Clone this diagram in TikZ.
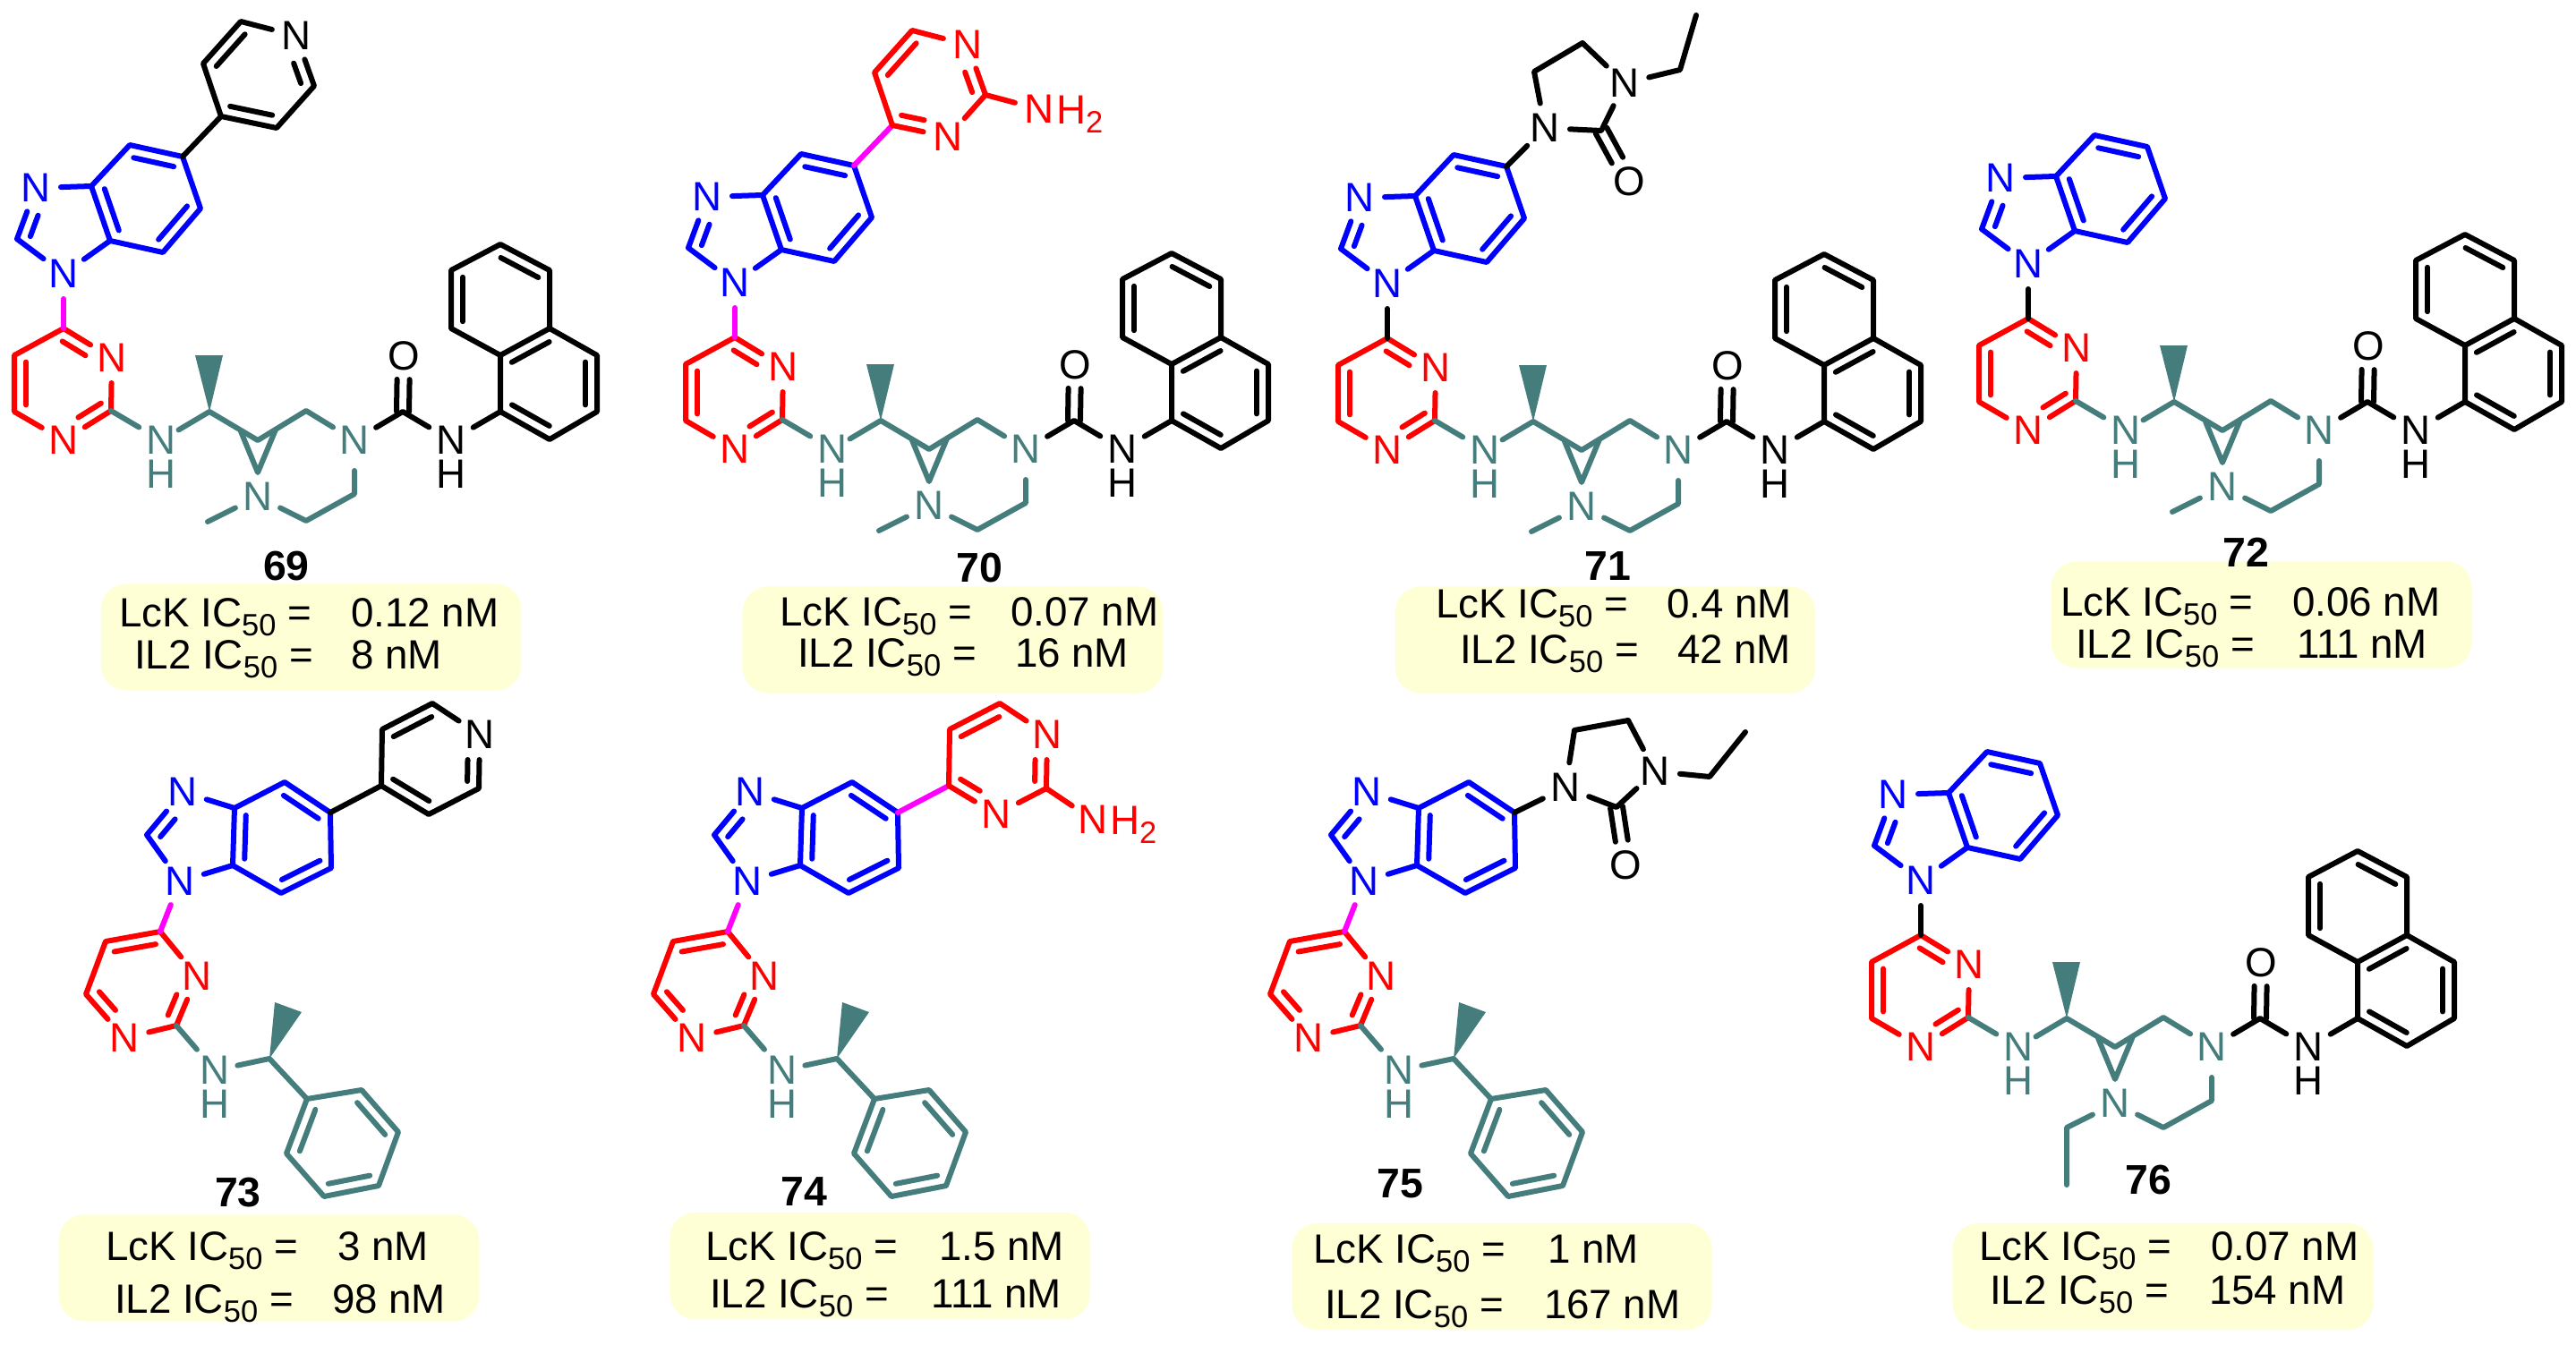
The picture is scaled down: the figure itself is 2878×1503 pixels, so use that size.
\documentclass[tikz,border=0pt]{standalone}
\usepackage{fontspec}
\setmainfont{Liberation Sans}
\usetikzlibrary{calc}

\definecolor{molred}{RGB}{255,0,0}
\definecolor{molblue}{RGB}{0,0,255}
\definecolor{molpink}{RGB}{255,0,255}
\definecolor{molteal}{RGB}{69,125,125}
\definecolor{boxfill}{RGB}{255,255,214}

\newcommand{\atomfont}{\fontsize{13}{14}\selectfont}
\newcommand{\icfont}{\fontsize{13}{15}\selectfont}
\newcommand{\labfont}{\fontsize{13.2}{15}\selectfont\bfseries}
\newcommand{\subn}[1]{\raisebox{-0.1cm}{\fontsize{9.8}{10}\selectfont #1}}
\newcommand{\lck}{LcK IC\subn{50} =}
\newcommand{\iltwo}{IL2 IC\subn{50} =}

% inner line of a double bond, on the right of the way a -> b
\newcommand{\ib}[4]{\draw ($(#1)!#3!(#2)!0.13cm!-90:(#2)$) -- ($(#1)!#4!(#2)!0.13cm!-90:(#2)$);}
% the two lines of a C=O
\newcommand{\co}[2]{
  \draw ($(#1)!0!(#2)!0.07cm!90:(#2)$) -- ($(#1)!0.58!(#2)!0.07cm!90:(#2)$);
  \draw ($(#1)!0!(#2)!0.07cm!-90:(#2)$) -- ($(#1)!0.58!(#2)!0.07cm!-90:(#2)$);
}

% benzimidazole: N1 C2 N3 C3a C7a C4 C5 C6 C7
\newcommand{\benzim}[9]{
  \begin{scope}[color=molblue]
    \node[natom] (n1) at (#1) {N};
    \coordinate (c2) at (#2);
    \node[natom] (n3) at (#3) {N};
    \coordinate (c3a) at (#4);
    \coordinate (c7a) at (#5);
    \coordinate (c4) at (#6);
    \coordinate (c5) at (#7);
    \coordinate (c6) at (#8);
    \coordinate (c7) at (#9);
    \draw (n1) -- (c2) -- (n3) -- (c3a) -- (c7a) -- (n1);
    \draw (c3a) -- (c4) -- (c5) -- (c6) -- (c7) -- (c7a);
    \ib{c2}{n3}{.13}{.54}
    \ib{c4}{c5}{.12}{.88}
    \ib{c6}{c7}{.12}{.88}
    \ib{c7a}{c3a}{.12}{.88}
  \end{scope}
}
\newcommand{\bziA}{\benzim{71,306}{19,267}{40,210}{102,208}{123,269}{145,162}{204,175}{224,233}{182,282}}
\newcommand{\bziB}{\benzim{201,985}{164,933}{204,885}{262,903}{260,967}{318,874}{369,908}{370,970}{314,998}}

% pyrimidine on the benzimidazole N, upper row
\newcommand{\pymA}{
  \begin{scope}[color=molred]
    \coordinate (p4) at (71,367);
    \coordinate (p5) at (16,397);
    \coordinate (p6) at (16,460);
    \node[natom] (p1) at (71,492) {N};
    \coordinate (p2) at (124,459);
    \node[natom] (p3) at (125,400) {N};
    \draw (p4) -- (p5) -- (p6) -- (p1) -- (p2) -- (p3) -- (p4);
    \ib{p4}{p3}{.1}{.58}
    \ib{p2}{p1}{.08}{.56}
    \ib{p6}{p5}{.12}{.88}
  \end{scope}
}
% same ring, lower row
\newcommand{\pymB}{
  \begin{scope}[color=molred]
    \coordinate (p4) at (179,1041);
    \coordinate (p5) at (118,1052);
    \coordinate (p6) at (96,1111);
    \node[natom] (p1) at (139,1160) {N};
    \coordinate (p2) at (197,1146);
    \node[natom] (p3) at (220,1091) {N};
    \draw (p4) -- (p5) -- (p6) -- (p1) -- (p2) -- (p3) -- (p4);
    \ib{p5}{p4}{.12}{.88}
    \ib{p3}{p2}{.46}{.88}
    \ib{p1}{p6}{.46}{.88}
  \end{scope}
}

% NH, chiral C and the bridged piperazine
\newcommand{\pipA}[1]{
  \begin{scope}[color=molteal]
    \node[hnode] (nh) at (180,492) {N};
    \node[hnode] (hh) at (180,530) {H};
    \coordinate (ch) at (234,460);
    \coordinate (wa) at (218,397);
    \coordinate (wb) at (249,397);
    \coordinate (br) at (288,492);
    \coordinate (bl) at (269,482);
    \coordinate (bq) at (308,480);
    \coordinate (apex) at (288,528);
    \coordinate (cr) at (342,459);
    \node[natom] (npip) at (396,492) {N};
    \coordinate (cs) at (396,552);
    \coordinate (ct) at (342,582);
    \node[natom] (nalk) at (288,555) {N};
    \fill (ch) -- (wa) -- (wb) -- cycle;
    \draw[shorten >=0.06cm] (p2) -- (nh);
    \draw[shorten <=0.06cm] (nh) -- (ch) -- (br) -- (cr) -- (npip) -- (cs) -- (ct) -- (nalk);
    \draw (bl) -- (apex) -- (bq);
    #1
  \end{scope}
}
\newcommand{\methyl}{
  \coordinate (mea) at (232,583);
  \draw (nalk) -- (mea);
}
\newcommand{\ethyl}{
  \coordinate (eta) at (234,582);
  \coordinate (etb) at (234,646);
  \draw (nalk) -- (eta) -- (etb);
}

% urea and naphthyl
\newcommand{\ureanaph}{
  \coordinate (cu) at (450,460);
  \node[natom] (ox) at (451,398) {O};
  \node[hnode] (nu) at (504,492) {N};
  \node[hnode] (hu) at (504,530) {H};
  \coordinate (a1) at (559,460);
  \coordinate (a2) at (559,397);
  \coordinate (a3) at (504,367);
  \coordinate (a4) at (504,302);
  \coordinate (a5) at (559,273);
  \coordinate (a6) at (614,302);
  \coordinate (a7) at (614,367);
  \coordinate (a8) at (667,397);
  \coordinate (a9) at (667,460);
  \coordinate (a10) at (614,491);
  \draw[shorten >=0.06cm] (npip) -- (cu) -- (nu);
  \draw[shorten <=0.06cm] (nu) -- (a1);
  \co{cu}{ox}
  \draw (a1) -- (a2) -- (a3) -- (a4) -- (a5) -- (a6) -- (a7) -- (a2);
  \draw (a7) -- (a8) -- (a9) -- (a10) -- (a1);
  \ib{a3}{a4}{.12}{.88}
  \ib{a5}{a6}{.12}{.88}
  \ib{a2}{a7}{.12}{.88}
  \ib{a8}{a9}{.12}{.88}
  \ib{a10}{a1}{.12}{.88}
}

% N-aryl-ethylamine of the lower row
\newcommand{\benzylB}{
  \begin{scope}[color=molteal]
    \node[hnode] (nh) at (240,1196) {N};
    \node[hnode] (hh) at (240,1234) {H};
    \coordinate (ch) at (301,1183);
    \coordinate (wa) at (307,1120);
    \coordinate (wb) at (337,1131);
    \coordinate (f1) at (343,1228);
    \coordinate (f2) at (404,1218);
    \coordinate (f3) at (445,1265);
    \coordinate (f4) at (423,1325);
    \coordinate (f5) at (362,1337);
    \coordinate (f6) at (320,1289);
    \fill (ch) -- (wa) -- (wb) -- cycle;
    \draw[shorten >=0.06cm] (p2) -- (nh);
    \draw[shorten <=0.06cm] (nh) -- (ch) -- (f1) -- (f2) -- (f3) -- (f4) -- (f5) -- (f6) -- (f1);
    \ib{f2}{f3}{.12}{.88}
    \ib{f4}{f5}{.12}{.88}
    \ib{f6}{f1}{.12}{.88}
  \end{scope}
}

% six-ring on C5: where its atoms lie
\newcommand{\ringpos}[6]{
  \coordinate (qa) at (#1);
  \coordinate (qb) at (#2);
  \coordinate (qc) at (#3);
  \coordinate (qd) at (#4);
  \coordinate (qe) at (#5);
  \coordinate (qf) at (#6);
}
\newcommand{\ringA}{\ringpos{247,130}{227,71}{269,24}{331,40}{351,96}{309,143}}
\newcommand{\ringB}{\ringpos{426,878}{427,815}{483,786}{536,821}{535,881}{479,910}}
\newcommand{\pyridyl}{
  \node[natom] (qn) at (qd) {N};
  \draw (c5) -- (qa) -- (qb) -- (qc) -- (qn) -- (qe) -- (qf) -- (qa);
  \ib{qb}{qc}{.12}{.88}
  \ib{qn}{qe}{.47}{.87}
  \ib{qf}{qa}{.12}{.88}
}
\newcommand{\aminopym}[1]{
  \draw[color=molpink] (c5) -- (qa);
  \begin{scope}[color=molred]
    \node[natom] (qn) at (qd) {N};
    \node[natom] (qm) at (qf) {N};
    \node[natom] (ntwo) at (#1) {N};
    \node[hnode,anchor=base west,xshift=0.16cm,yshift=-0.16cm] (htwo) at (ntwo) {H\subn{2}};
    \draw (qa) -- (qb) -- (qc) -- (qn) -- (qe) -- (qm) -- (qa);
    \draw (qe) -- (ntwo);
    \ib{qb}{qc}{.12}{.88}
    \ib{qn}{qe}{.47}{.87}
    \ib{qm}{qa}{.47}{.88}
  \end{scope}
}

% imidazolidinone: N, CH2, CH2, N, C=O, O, CH2, CH3
\newcommand{\imidone}[8]{
  \node[natom] (ia) at (#1) {N};
  \coordinate (ib) at (#2);
  \coordinate (ic) at (#3);
  \node[natom] (id) at (#4) {N};
  \coordinate (ie) at (#5);
  \node[natom] (io) at (#6) {O};
  \coordinate (ig) at (#7);
  \coordinate (ih) at (#8);
  \draw (c5) -- (ia) -- (ib) -- (ic) -- (id) -- (ie) -- (ia);
  \draw (id) -- (ig) -- (ih);
  \co{ie}{io}
}

\newcommand{\icrow}[6]{
  \node[ictext] (#1l) at (#2,#3) {#4};
  \node[ictext] (#1v) at (#5,#3) {#6};
}

\begin{document}
\begin{tikzpicture}[
  x=0.01cm,y=-0.01cm,
  line width=0.06cm,line cap=round,line join=round,
  natom/.style={circle,minimum size=0.5cm,inner sep=0pt,font=\atomfont},
  hnode/.style={inner sep=0pt,font=\atomfont},
  icbox/.style={fill=boxfill,rounded corners=0.28cm,minimum width=4.69cm,minimum height=1.19cm,inner sep=0pt},
  ictext/.style={anchor=base west,inner sep=0pt,font=\icfont},
  lab/.style={inner sep=0pt,font=\labfont}
]
  \useasboundingbox (0,0) rectangle (2878,1503);

  % boxes
  \node[icbox] (box69) at (347.5,712) {};
  \node[icbox] (box70) at (1064.5,715) {};
  \node[icbox] (box71) at (1793.5,715) {};
  \node[icbox] (box72) at (2526.5,687) {};
  \node[icbox] (box73) at (300.5,1417) {};
  \node[icbox] (box74) at (983,1414.5) {};
  \node[icbox] (box75) at (1678,1426.5) {};
  \node[icbox] (box76) at (2416.5,1426.5) {};

  % upper row
  \begin{scope}
    \bziA \pymA \pipA{\methyl} \ureanaph
    \draw[color=molpink] (n1) -- (p4);
    \ringA \pyridyl
  \end{scope}
  \begin{scope}[shift={(750,10)}]
    \bziA \pymA \pipA{\methyl} \ureanaph
    \draw[color=molpink] (n1) -- (p4);
    \ringA \aminopym{411,112}
  \end{scope}
  \begin{scope}[shift={(1479,11)}]
    \bziA \pymA \pipA{\methyl} \ureanaph
    \draw (n1) -- (p4);
    \imidone{247,132}{235,69}{289,37}{336,82}{310,135}{341,192}{398,67}{416,6}
  \end{scope}
  \begin{scope}[shift={(2195,-11)}]
    \bziA \pymA \pipA{\methyl} \ureanaph
    \draw (n1) -- (p4);
  \end{scope}

  % lower row
  \begin{scope}
    \bziB \pymB \benzylB
    \draw[color=molpink] (n1) -- (p4);
    \ringB \pyridyl
  \end{scope}
  \begin{scope}[shift={(634,0)}]
    \bziB \pymB \benzylB
    \draw[color=molpink] (n1) -- (p4);
    \ringB \aminopym{587,916}
  \end{scope}
  \begin{scope}[shift={(1323,0)}]
    \bziB \pymB \benzylB
    \draw[color=molpink] (n1) -- (p4);
    \imidone{426,880}{436,816}{496,805}{526,862}{483,902}{493,967}{587,868}{627,818}
  \end{scope}
  \begin{scope}[shift={(2075,678)}]
    \bziA \pymA \pipA{\ethyl} \ureanaph
    \draw (n1) -- (p4);
  \end{scope}

  % compound numbers
  \node[lab] (lab69) at (320,633) {69};
  \node[lab] (lab70) at (1094,635) {70};
  \node[lab] (lab71) at (1796,633) {71};
  \node[lab] (lab72) at (2509,617) {72};
  \node[lab] (lab73) at (266,1333) {73};
  \node[lab] (lab74) at (898,1332) {74};
  \node[lab] (lab75) at (1564,1323) {75};
  \node[lab] (lab76) at (2400,1319) {76};

  % activities
  \icrow{aa}{130}{700}{\lck}{389}{0.12 nM}
  \icrow{ab}{147}{747}{\iltwo}{389}{8 nM}
  \icrow{ba}{868}{699}{\lck}{1126}{0.07 nM}
  \icrow{bb}{888}{745}{\iltwo}{1131}{16 nM}
  \icrow{ca}{1601}{690}{\lck}{1859}{0.4 nM}
  \icrow{cb}{1628}{741}{\iltwo}{1871}{42 nM}
  \icrow{da}{2299}{688}{\lck}{2558}{0.06 nM}
  \icrow{db}{2316}{735}{\iltwo}{2563}{111 nM}
  \icrow{ea}{115}{1408}{\lck}{374}{3 nM}
  \icrow{eb}{125}{1467}{\iltwo}{368}{98 nM}
  \icrow{fa}{785}{1408}{\lck}{1046}{1.5 nM}
  \icrow{fb}{790}{1461}{\iltwo}{1037}{111 nM}
  \icrow{ga}{1464}{1411}{\lck}{1726}{1 nM}
  \icrow{gb}{1477}{1473}{\iltwo}{1722}{167 nM}
  \icrow{ha}{2208}{1408}{\lck}{2467}{0.07 nM}
  \icrow{hb}{2220}{1457}{\iltwo}{2465}{154 nM}
\end{tikzpicture}
\end{document}
